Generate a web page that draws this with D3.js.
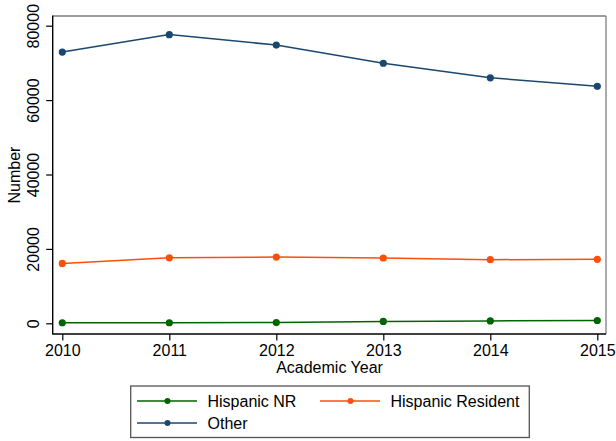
<!DOCTYPE html>
<html>
<head>
<meta charset="utf-8">
<script src="https://cdn.jsdelivr.net/npm/d3@7"></script>
<style>
  body { margin: 0; background: #fff; }
  svg { font-family: "Liberation Sans", Arial, sans-serif; }
</style>
</head>
<body>
<svg id="chart" width="616" height="441"></svg>
<script>
'use strict';

var years = [2010, 2011, 2012, 2013, 2014, 2015];
var seriesNames = ["Hispanic NR", "Hispanic Resident", "Other"];
var hispanicNR = [150, 150, 200, 500, 650, 750];
var hispanicResident = [16100, 17600, 17800, 17550, 17100, 17200];
var other = [72900, 77600, 74800, 69900, 66000, 63700];
var yTicks = [0, 20000, 40000, 60000, 80000];
var colors = ["#006400", "#ff4d0a", "#1a476f"];

var svg = d3.select("#chart");
var plotLeft = 52.7, plotRight = 606, plotTop = 16, plotBottom = 334;

var x = d3.scaleLinear().domain([2010, 2015]).range([62.3, 597.3]);
var y = d3.scaleLinear().domain([0, 80000]).range([323.3, 25.7]);

var series = [hispanicNR, hispanicResident, other].map(function(vals, i) {
    return { name: seriesNames[i], color: colors[i],
             points: vals.map(function(v, j) { return { year: years[j], value: v }; }) };
});

// plot frame (top/right lighter)
svg.append("line").attr("x1", plotLeft).attr("x2", plotRight).attr("y1", plotTop).attr("y2", plotTop)
    .attr("stroke", "#7f7f7f").attr("stroke-width", 1.3);
svg.append("line").attr("x1", plotRight).attr("x2", plotRight).attr("y1", plotTop).attr("y2", plotBottom)
    .attr("stroke", "#7f7f7f").attr("stroke-width", 1.3);

// axes
var yAxis = d3.axisLeft(y).tickValues(yTicks).tickSize(6.5).tickPadding(4)
    .tickFormat(d3.format("d"));
var gy = svg.append("g").attr("transform", "translate(" + plotLeft + ",0)").call(yAxis);
gy.select(".domain").remove();
gy.selectAll(".tick line").attr("stroke", "#000").attr("stroke-width", 1.2);
gy.selectAll(".tick text")
    .attr("font-size", 16).attr("fill", "#000")
    .attr("text-anchor", "middle").attr("x", 0).attr("dy", 0)
    .attr("transform", "translate(-14,0) rotate(-90)");

var xAxis = d3.axisBottom(x).tickValues(years).tickSize(6.5).tickPadding(4)
    .tickFormat(d3.format("d"));
var gx = svg.append("g").attr("transform", "translate(0," + plotBottom + ")").call(xAxis);
gx.select(".domain").remove();
gx.selectAll(".tick line").attr("stroke", "#000").attr("stroke-width", 1.2);
gx.selectAll(".tick text").attr("font-size", 16).attr("fill", "#000");

svg.append("line").attr("x1", plotLeft).attr("x2", plotLeft).attr("y1", plotTop - 0.6).attr("y2", plotBottom + 0.6)
    .attr("stroke", "#000").attr("stroke-width", 1.4);
svg.append("line").attr("x1", plotLeft).attr("x2", plotRight).attr("y1", plotBottom).attr("y2", plotBottom)
    .attr("stroke", "#000").attr("stroke-width", 1.4);

// titles
svg.append("text").attr("x", 329.5).attr("y", 373).attr("text-anchor", "middle")
    .attr("font-size", 16).text("Academic Year");
svg.append("text").attr("transform", "translate(20,175) rotate(-90)")
    .attr("text-anchor", "middle").attr("font-size", 16).text("Number");

// series
var line = d3.line().x(function(d) { return x(d.year); }).y(function(d) { return y(d.value); });
series.forEach(function(s) {
    svg.append("path").datum(s.points).attr("d", line)
        .attr("fill", "none").attr("stroke", s.color).attr("stroke-width", 1.5);
    svg.selectAll(null).data(s.points).enter().append("circle")
        .attr("cx", function(d) { return x(d.year); })
        .attr("cy", function(d) { return y(d.value); })
        .attr("r", 3.6).attr("fill", s.color);
});

// legend
svg.append("rect").attr("x", 130.7).attr("y", 386).attr("width", 398.6).attr("height", 51.5)
    .attr("fill", "#fff").attr("stroke", "#555").attr("stroke-width", 1.3);
var legendPos = [[137, 401], [320, 401], [137, 423]];
series.forEach(function(s, i) {
    var p = legendPos[i];
    svg.append("line").attr("x1", p[0]).attr("x2", p[0] + 60).attr("y1", p[1]).attr("y2", p[1])
        .attr("stroke", s.color).attr("stroke-width", 1.5);
    svg.append("circle").attr("cx", p[0] + 30.5).attr("cy", p[1]).attr("r", 3).attr("fill", s.color);
    svg.append("text").attr("x", p[0] + 70.5).attr("y", p[1] + 5.8)
        .attr("font-size", 16).text(s.name);
});
</script>
</body>
</html>
